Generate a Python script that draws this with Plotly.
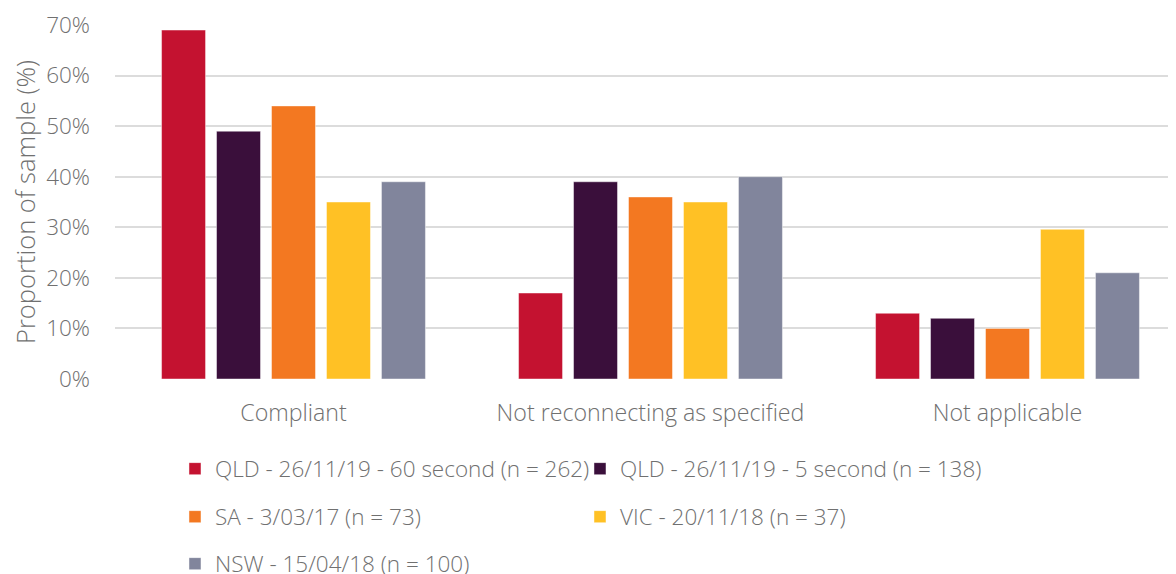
import plotly.graph_objects as go

categories = ["Compliant", "Not reconnecting as specified", "Not applicable"]
series_names = [
    "QLD - 26/11/19 - 60 second (n = 262)",
    "QLD - 26/11/19 - 5 second (n = 138)",
    "SA - 3/03/17 (n = 73)",
    "VIC - 20/11/18 (n = 37)",
    "NSW - 15/04/18 (n = 100)",
]
qld60 = [69, 17, 13]
qld5 = [49, 39, 12]
sa = [54, 36, 10]
vic = [35, 35, 29.6]
nsw = [39, 40, 21]
series_values = [qld60, qld5, sa, vic, nsw]
colors = ["#C41230", "#3A0F3B", "#F37821", "#FFC125", "#81859C"]
legend_ids = ["legend", "legend", "legend2", "legend2", "legend3"]
y_ticks = [0, 10, 20, 30, 40, 50, 60, 70]

W, H = 1176, 574
FONT = "Open Sans"
TXT = "#707070"
FS = 22.5

fig = go.Figure()
for name, vals, col, lg in zip(series_names, series_values, colors, legend_ids):
    fig.add_trace(go.Bar(
        name=name, x=categories, y=vals,
        marker=dict(color=col, line=dict(color="rgba(255,255,255,0.45)", width=1)),
        legend=lg,
    ))

leg_common = dict(
    orientation="h", xref="container", yref="container",
    x=0.142, xanchor="left", yanchor="middle",
    entrywidth=360, entrywidthmode="pixels",
    font=dict(family=FONT, size=FS, color=TXT, weight=300),
    bgcolor="rgba(0,0,0,0)", traceorder="normal",
)
fig.update_layout(
    width=W, height=H,
    margin=dict(l=107, r=0, t=17, b=203, autoexpand=False),
    paper_bgcolor="white", plot_bgcolor="white",
    barmode="group", bargap=0.23, bargroupgap=0.2,
    font=dict(family=FONT, size=FS, color=TXT, weight=300),
    xaxis=dict(range=[-0.5, -0.5 + 1069 / 357], showgrid=False, zeroline=False,
               showline=False, ticks="", ticklabelstandoff=18, automargin=False,
               tickfont=dict(family=FONT, size=23.2, color=TXT, weight=300)),
    yaxis=dict(range=[0, 70], tickvals=y_ticks, ticktext=[f"{v}%" for v in y_ticks],
               showgrid=True, gridcolor="#DCDCDC", gridwidth=2, zeroline=False,
               showline=False, ticks="", ticklabelstandoff=24, automargin=False,
               tickfont=dict(family=FONT, size=FS, color=TXT, weight=300),
               title=dict(text="Proportion of sample (%)", standoff=10,
                          font=dict(family=FONT, size=25.5, color=TXT, weight=300))),
    legend=dict(**leg_common, y=1 - 461 / H),
    legend2=dict(**leg_common, y=1 - 509 / H),
    legend3=dict(**leg_common, y=1 - 556 / H),
    showlegend=True,
)
fig.write_html("out.html")
